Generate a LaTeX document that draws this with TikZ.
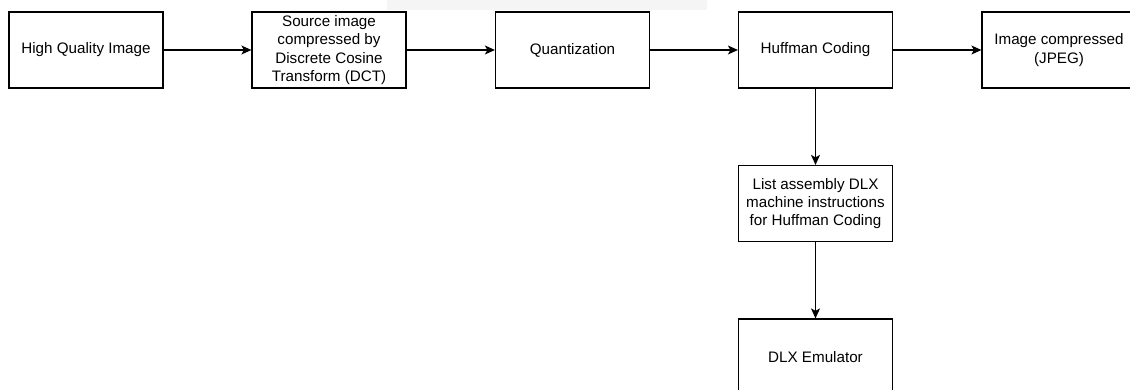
\documentclass[tikz,border=0pt]{standalone}
\usepackage{fontspec}
\setmainfont{Liberation Sans}
\usetikzlibrary{arrows.meta}
\definecolor{bandgray}{HTML}{F5F5F5}
\begin{document}
\begin{tikzpicture}[
	x=1pt, y=-1pt,
	every node/.style={font=\fontsize{15.2}{18.2}\selectfont},
	stagebox/.style={shape=rectangle, draw=black, line width=1.2pt, minimum width=154pt, minimum height=76pt, align=center, inner sep=2pt},
	flowarrow/.style={line width=1.2pt, -{Stealth[length=10pt, width=9pt, inset=2.5pt]}},
]
\useasboundingbox (0,0) rectangle (1130,390);
\clip (0,0) rectangle (1130,390);
\fill[bandgray] (387,0) rectangle (707,10.5);

\node[stagebox] (hqimage) at (86,50) {High Quality Image};
\node[stagebox] (dct) at (329,50) {Source image\\compressed by\\Discrete Cosine\\Transform (DCT)};
\node[stagebox] (quant) at (572.5,50) {Quantization};
\node[stagebox] (huffman) at (815.5,50) {Huffman Coding};
\node[stagebox] (jpeg) at (1059,50) {Image compressed\\(JPEG)};
\node[stagebox] (dlxlist) at (815.5,203.5) {List assembly DLX\\machine instructions\\for Huffman Coding};
\node[stagebox] (emulator) at (815.5,357) {DLX Emulator};

\draw[flowarrow] (hqimage) -- (dct);
\draw[flowarrow] (dct) -- (quant);
\draw[flowarrow] (quant) -- (huffman);
\draw[flowarrow] (huffman) -- (jpeg);
\draw[flowarrow] (huffman) -- (dlxlist);
\draw[flowarrow] (dlxlist) -- (emulator);
\end{tikzpicture}
\end{document}
